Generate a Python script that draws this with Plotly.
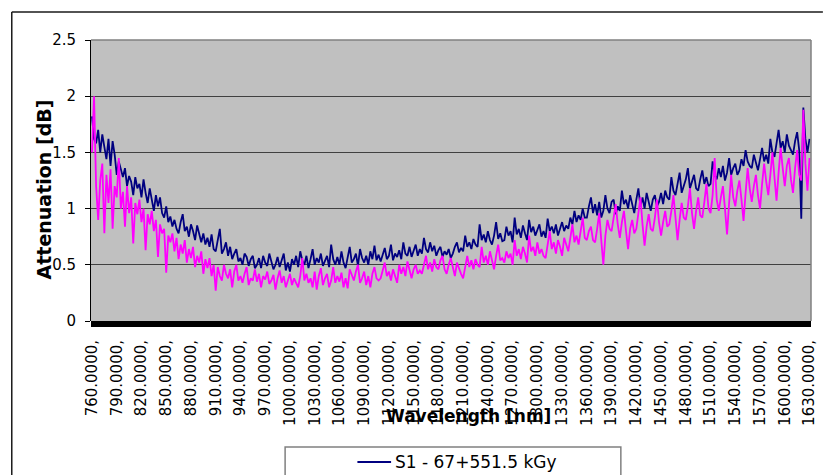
import plotly.graph_objects as go

# ---------------- data ----------------
wavelengths = [760 + 2.5 * i for i in range(349)]

s1_67_551 = [
    1.82, 1.62, 1.58, 1.70, 1.50, 1.66, 1.55, 1.44, 1.62, 1.38, 1.60, 1.48, 1.30, 1.42, 1.35, 1.28, 1.36, 1.20, 1.29, 1.24,
    1.12, 1.28, 1.18, 1.22, 1.10, 1.26, 1.14, 1.05, 1.18, 1.08, 0.98, 1.12, 1.02, 1.10, 0.96, 0.92, 1.02, 0.88, 0.93, 0.84,
    0.90, 0.82, 0.78, 0.88, 0.95, 0.80, 0.84, 0.75, 0.86, 0.80, 0.72, 0.85, 0.76, 0.70, 0.78, 0.68, 0.74, 0.66, 0.77, 0.64,
    0.62, 0.72, 0.82, 0.60, 0.64, 0.70, 0.58, 0.66, 0.55, 0.60, 0.64, 0.53, 0.56, 0.50, 0.60, 0.57, 0.49, 0.55, 0.58, 0.47,
    0.50, 0.56, 0.47, 0.58, 0.52, 0.49, 0.60, 0.53, 0.46, 0.50, 0.57, 0.48, 0.54, 0.60, 0.45, 0.52, 0.44, 0.55, 0.50, 0.58,
    0.48, 0.62, 0.54, 0.50, 0.58, 0.47, 0.55, 0.64, 0.50, 0.56, 0.52, 0.60, 0.49, 0.53, 0.58, 0.48, 0.68, 0.55, 0.50, 0.57,
    0.50, 0.62, 0.52, 0.47, 0.58, 0.66, 0.52, 0.55, 0.60, 0.49, 0.64, 0.56, 0.52, 0.58, 0.50, 0.62, 0.55, 0.67, 0.54, 0.59,
    0.53, 0.60, 0.65, 0.55, 0.58, 0.68, 0.54, 0.60, 0.57, 0.63, 0.55, 0.70, 0.60, 0.58, 0.66, 0.57, 0.62, 0.68, 0.58, 0.64,
    0.60, 0.74, 0.64, 0.61, 0.70, 0.62, 0.67, 0.58, 0.63, 0.66, 0.57, 0.62, 0.59, 0.64, 0.56, 0.60, 0.66, 0.70, 0.61, 0.65,
    0.62, 0.76, 0.66, 0.70, 0.64, 0.73, 0.68, 0.66, 0.86, 0.72, 0.77, 0.70, 0.80, 0.72, 0.68, 0.76, 0.88, 0.73, 0.78, 0.71,
    0.72, 0.84, 0.76, 0.80, 0.70, 0.92, 0.77, 0.82, 0.74, 0.85, 0.78, 0.72, 0.90, 0.79, 0.84, 0.76, 0.81, 0.86, 0.75, 0.80,
    0.74, 0.91, 0.80, 0.84, 0.78, 0.86, 0.76, 0.82, 0.88, 0.80, 0.85, 0.82, 0.92, 0.86, 0.98, 0.88, 0.94, 0.90, 1.00, 0.92,
    0.92, 1.02, 1.10, 0.96, 1.04, 0.94, 1.06, 0.92, 0.98, 1.12, 1.00, 0.96, 1.06, 1.08, 0.95, 1.02, 0.98, 1.16, 1.04, 1.08,
    1.00, 1.12, 1.04, 0.96, 1.08, 1.18, 1.02, 1.10, 1.00, 1.14, 1.06, 0.98, 1.08, 1.12, 1.02, 1.06, 1.14, 1.04, 1.16, 1.10,
    1.08, 1.28, 1.16, 1.12, 1.22, 1.32, 1.14, 1.20, 1.26, 1.36, 1.18, 1.24, 1.30, 1.18, 1.16, 1.26, 1.34, 1.22, 1.28, 1.20,
    1.22, 1.42, 1.30, 1.26, 1.36, 1.28, 1.38, 1.25, 1.32, 1.45, 1.30, 1.36, 1.40, 1.30, 1.34, 1.44, 1.38, 1.52, 1.42, 1.38,
    1.36, 1.48, 1.40, 1.34, 1.44, 1.54, 1.42, 1.48, 1.40, 1.62, 1.50, 1.46, 1.58, 1.70, 1.54, 1.60, 1.50, 1.66, 1.56, 1.52,
    1.48, 1.60, 1.68, 1.52, 0.91, 1.90, 1.62, 1.50, 1.62,
]

s2_pink = [
    1.50, 2.00, 1.20, 0.90, 1.25, 1.40, 0.78, 1.30, 1.05, 1.35, 0.82, 1.20, 1.10, 1.45, 1.00, 1.15, 0.84, 1.20, 0.96, 1.10,
    0.69, 1.05, 0.95, 1.08, 0.88, 1.00, 0.63, 0.95, 0.86, 0.98, 0.80, 0.90, 0.57, 0.86, 0.78, 0.82, 0.43, 0.76, 0.70, 0.78,
    0.62, 0.74, 0.55, 0.68, 0.60, 0.72, 0.52, 0.64, 0.56, 0.66, 0.48, 0.58, 0.52, 0.62, 0.42, 0.55, 0.47, 0.56, 0.40, 0.50,
    0.27, 0.48, 0.40, 0.36, 0.50, 0.42, 0.38, 0.46, 0.30, 0.44, 0.50, 0.36, 0.40, 0.34, 0.42, 0.48, 0.32, 0.38, 0.36, 0.46,
    0.35, 0.42, 0.30, 0.40, 0.37, 0.44, 0.33, 0.36, 0.41, 0.28, 0.38, 0.45, 0.34, 0.40, 0.30, 0.36, 0.42, 0.32, 0.38, 0.34,
    0.30, 0.40, 0.56, 0.36, 0.42, 0.34, 0.38, 0.30, 0.44, 0.28, 0.40, 0.47, 0.32, 0.38, 0.42, 0.30, 0.36, 0.48, 0.34, 0.40,
    0.35, 0.43, 0.30, 0.38, 0.29, 0.46, 0.40, 0.36, 0.44, 0.50, 0.34, 0.38, 0.44, 0.32, 0.40, 0.30, 0.42, 0.48, 0.38, 0.36,
    0.38, 0.46, 0.52, 0.40, 0.44, 0.36, 0.46, 0.40, 0.34, 0.50, 0.42, 0.48, 0.40, 0.53, 0.44, 0.38, 0.46, 0.50, 0.42, 0.45,
    0.42, 0.50, 0.58, 0.46, 0.52, 0.44, 0.55, 0.48, 0.46, 0.54, 0.58, 0.46, 0.42, 0.50, 0.56, 0.48, 0.40, 0.52, 0.46, 0.42,
    0.38, 0.50, 0.58, 0.48, 0.54, 0.46, 0.55, 0.50, 0.48, 0.66, 0.52, 0.58, 0.50, 0.62, 0.55, 0.46, 0.58, 0.68, 0.54, 0.56,
    0.52, 0.62, 0.56, 0.60, 0.50, 0.72, 0.58, 0.64, 0.55, 0.66, 0.60, 0.52, 0.76, 0.62, 0.66, 0.58, 0.70, 0.60, 0.64, 0.58,
    0.56, 0.68, 0.80, 0.64, 0.70, 0.60, 0.72, 0.66, 0.58, 0.74, 0.68, 0.62, 0.74, 0.86, 0.70, 0.76, 0.68, 0.80, 0.92, 0.74,
    0.72, 0.80, 0.84, 0.72, 0.70, 0.82, 0.96, 0.72, 0.50, 0.76, 0.90, 0.82, 0.80, 0.92, 1.04, 0.86, 0.74, 0.88, 0.98, 0.80,
    0.64, 0.82, 0.90, 0.78, 0.82, 0.96, 1.10, 0.86, 0.67, 0.84, 0.95, 0.82, 0.80, 0.92, 1.08, 0.88, 0.76, 0.88, 0.98, 0.84,
    0.86, 0.98, 1.12, 0.92, 0.72, 0.90, 1.05, 0.92, 0.90, 1.02, 1.18, 0.96, 0.82, 0.98, 1.10, 0.94, 0.92, 1.06, 1.22, 1.00,
    0.96, 1.12, 1.45, 1.08, 0.98, 1.10, 1.20, 1.00, 0.77, 1.05, 1.30, 1.10, 1.02, 1.16, 1.25, 1.08, 0.89, 1.14, 1.36, 1.18,
    1.06, 1.20, 1.30, 1.12, 1.00, 1.22, 1.40, 1.24, 1.12, 1.30, 1.50, 1.28, 1.07, 1.32, 1.54, 1.36, 1.20, 1.38, 1.45, 1.26,
    1.14, 1.36, 1.52, 1.30, 1.25, 1.88, 1.40, 1.16, 1.45,
]

tick_values = list(range(760, 1631, 30))
tick_labels = [f"{v}.0000," for v in tick_values]

legend_label = "S1 - 67+551.5 kGy"
x_title = "Wavelength [nm]"
y_title = "Attenuation [dB]"

assert len(wavelengths) == len(s1_67_551) == len(s2_pink), (
    len(wavelengths), len(s1_67_551), len(s2_pink))

# ---------------- layout helpers ----------------
W, H = 825, 475
L, R, T, B = 91, 7, 40, 154
PW, PH = W - L - R, H - T - B


def px(x):
    return (x - L) / PW


def py(y):
    return (H - B - y) / PH


FONT = "DejaVu Sans"

fig = go.Figure()
fig.add_trace(go.Scatter(x=wavelengths, y=s1_67_551, mode="lines",
                         line=dict(color="#000080", width=1.8),
                         name=legend_label))
fig.add_trace(go.Scatter(x=wavelengths, y=s2_pink, mode="lines",
                         line=dict(color="#FF00FF", width=1.8),
                         name="S2"))

shapes = [
    # outer chart frame
    dict(type="line", xref="paper", yref="paper", x0=px(11), x1=px(830),
         y0=py(12), y1=py(12), line=dict(color="#1a1a1a", width=1.5)),
    dict(type="line", xref="paper", yref="paper", x0=px(11), x1=px(11),
         y0=py(12), y1=py(480), line=dict(color="#1a1a1a", width=1.5)),
    # plot area border (top / right)
    dict(type="line", xref="paper", yref="paper", x0=0, x1=1, y0=1, y1=1,
         line=dict(color="#808080", width=1.5)),
    dict(type="line", xref="paper", yref="paper", x0=1, x1=1, y0=0, y1=1,
         line=dict(color="#808080", width=1.5)),
    # thick black baseline
    dict(type="rect", xref="paper", yref="paper", x0=0, x1=1,
         y0=py(327), y1=0, fillcolor="black", line=dict(width=0)),
    # legend box
    dict(type="rect", xref="paper", yref="paper", x0=px(287), x1=px(626),
         y0=py(490), y1=py(447), fillcolor="white",
         line=dict(color="#808080", width=1.5)),
    dict(type="line", xref="paper", yref="paper", x0=px(360), x1=px(394),
         y0=py(462), y1=py(462), line=dict(color="#000080", width=2)),
]

annotations = [
    dict(text=legend_label, xref="paper", yref="paper", x=px(396), y=py(462),
         xanchor="left", yanchor="middle", showarrow=False,
         font=dict(family=FONT, size=17, color="black")),
    dict(text=x_title, xref="paper", yref="paper", x=px(472), y=py(416),
         xanchor="center", yanchor="middle", showarrow=False,
         font=dict(family=FONT, size=17, color="black", weight="bold")),
    dict(text=y_title, xref="paper", yref="paper", x=px(44), y=py(189),
         xanchor="center", yanchor="middle", showarrow=False, textangle=-90,
         font=dict(family=FONT, size=19, color="black", weight="bold")),
]

fig.update_layout(
    width=W, height=H,
    margin=dict(l=L, r=R, t=T, b=B, pad=0),
    paper_bgcolor="white",
    plot_bgcolor="#C0C0C0",
    showlegend=False,
    shapes=shapes,
    annotations=annotations,
    font=dict(family=FONT, color="black"),
    xaxis=dict(
        range=[758.8, 1631.8],
        tickvals=tick_values, ticktext=tick_labels,
        tickangle=-90,
        tickfont=dict(family=FONT, size=15, color="black"),
        ticks="outside", ticklen=12, tickcolor="rgba(0,0,0,0)",
        ticklabeloverflow="allow",
        showgrid=False, zeroline=False, showline=False,
    ),
    yaxis=dict(
        range=[0, 2.5], dtick=0.5, tick0=0,
        tickfont=dict(family=FONT, size=15, color="black"),
        ticks="outside", ticklen=5, tickcolor="black", tickwidth=1,
        showline=True, linecolor="black", linewidth=1,
        showgrid=True, gridcolor="#404040", gridwidth=1.2,
        zeroline=False,
        ticklabelstandoff=6,
    ),
)

fig.write_html("out.html")
